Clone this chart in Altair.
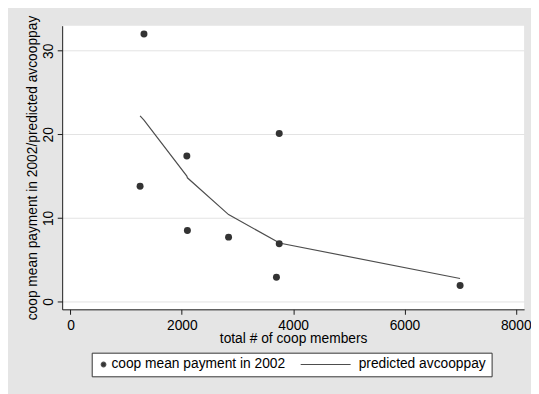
import altair as alt
import pandas as pd

# data
members = [1250, 1320, 2090, 2100, 2840, 3700, 3750, 3750, 7000]
pay = [13.8, 32.0, 17.4, 8.5, 7.7, 2.9, 20.1, 6.9, 1.9]
predicted = [22.2, 21.7, 15.0, 14.8, 10.4, 7.2, 7.0, 7.0, 2.75]
series_names = ["coop mean payment in 2002", "predicted avcooppay"]
x_ticks = [0, 2000, 4000, 6000, 8000]
y_ticks = [0, 10, 20, 30]

df = pd.DataFrame({
    "members": members,
    "pay": pay,
    "predicted": predicted,
    "series": [series_names[0]] * len(members),
})

FONT = "Liberation Sans"
FS = 14
INK = "#1a1a1a"
POINT_COLOR = "#333333"
LINE_COLOR = "#4d4d4d"

x_scale = alt.Scale(domain=[-150, 8150], nice=False, zero=False)
y_scale = alt.Scale(domain=[-0.94, 33], nice=False, zero=False)

x_axis = alt.Axis(
    values=x_ticks, format="d", title="total # of coop members", grid=False,
    domainColor=INK, tickColor=INK, tickSize=5, labelPadding=4,
    labelFont=FONT, labelFontSize=FS, labelColor="black",
    titleFont=FONT, titleFontSize=FS, titleColor="black", titleFontWeight="normal",
    titlePadding=0,
)
y_title = "coop mean payment in 2002/predicted avcooppay"
y_axis = alt.Axis(
    values=y_ticks, format="d", title=y_title, grid=True, gridColor="#e3e3e3",
    domainColor=INK, tickColor=INK, tickSize=5, labelPadding=2,
    labelAngle=270, labelAlign="center", labelBaseline="bottom",
    labelFont=FONT, labelFontSize=FS, labelColor="black",
    titleFont=FONT, titleFontSize=FS, titleColor="black", titleFontWeight="normal",
    titlePadding=2,
)

legend = alt.Legend(
    title=None, orient="none", legendX=30, legendY=332, direction="horizontal",
    labelFont=FONT, labelFontSize=FS, labelColor="black", labelLimit=400,
    labelOffset=1, symbolOffset=0, clipHeight=14,
    symbolStrokeColor=LINE_COLOR, symbolStrokeWidth=1.2,
    strokeColor="#333333", fillColor="white", padding=5, columnPadding=8,
)

base = alt.Chart(df)

line = base.mark_line(color=LINE_COLOR, strokeWidth=1.2).encode(
    x=alt.X("members:Q", scale=x_scale, axis=x_axis),
    y=alt.Y("predicted:Q", scale=y_scale, axis=y_axis),
)

# layer that carries the legend (circle for points, stroke for the line)
legend_points = base.mark_point(filled=True, opacity=1).encode(
    x=alt.X("members:Q", scale=x_scale, axis=x_axis),
    y=alt.Y("pay:Q", scale=y_scale, axis=y_axis),
    color=alt.Color(
        "series:N",
        scale=alt.Scale(domain=series_names, range=[POINT_COLOR, LINE_COLOR]),
        legend=legend,
    ),
    shape=alt.Shape(
        "series:N",
        scale=alt.Scale(domain=series_names, range=["circle", "M-0.795,0L0.795,0"]),
        legend=legend,
    ),
    size=alt.Size(
        "series:N",
        scale=alt.Scale(type="ordinal", domain=series_names, range=[22, 4070]),
        legend=legend,
    ),
)

points = base.mark_circle(size=50, opacity=1, color=POINT_COLOR).encode(
    x=alt.X("members:Q", scale=x_scale, axis=x_axis),
    y=alt.Y("pay:Q", scale=y_scale, axis=y_axis),
)

chart = (
    alt.layer(line, legend_points, points)
    .properties(
        width=469, height=288,
        padding={"left": 55, "top": 15, "right": 7, "bottom": 83},
        autosize=alt.AutoSizeParams(type="none"),
        background="#e5e5e5",
    )
    .configure_view(fill="white", strokeWidth=0)
)

chart.save("out.html", embed_options={"renderer": "svg", "actions": False})
